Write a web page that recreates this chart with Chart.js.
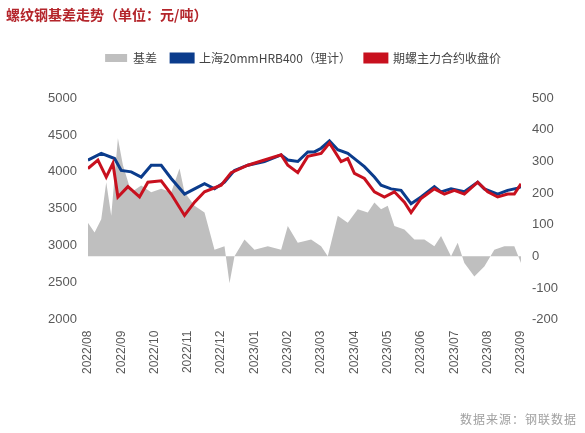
<!DOCTYPE html>
<html><head><meta charset="utf-8">
<script src="https://cdn.jsdelivr.net/npm/chart.js@4"></script>
<style>
body{margin:0;background:#fff;font-family:"Noto Sans CJK SC","Noto Sans",sans-serif;}
#wrap{position:relative;width:585px;height:433px;}
#title{position:absolute;left:6px;top:4px;font-size:14px;font-weight:bold;color:#b4252b;}
#src{position:absolute;right:8px;bottom:6px;font-size:12px;color:#a0a0a0;letter-spacing:1px;}
</style></head><body>
<div id="wrap"><canvas id="c" width="585" height="433"></canvas>
<div id="title">螺纹钢基差走势（单位：元/吨）</div>
<div id="src">数据来源：钢联数据</div></div>
<script>
const monthLabels=["2022/08","2022/09","2022/10","2022/11","2022/12","2023/01","2023/02","2023/03","2023/04","2023/05","2023/06","2023/07","2023/08","2023/09"];
const spotX=[0,0.4,0.8,1,1.3,1.6,1.9,2.2,2.5,2.9,3.2,3.5,3.8,4.1,4.4,4.8,5.3,5.8,6,6.3,6.6,6.8,7,7.25,7.5,7.8,8,8.3,8.6,8.8,9.1,9.4,9.7,10,10.4,10.6,10.9,11.3,11.7,11.9,12.3,12.6,12.9,13];
const spotY=[4160,4250,4180,4020,4000,3930,4090,4090,3910,3700,3770,3840,3770,3860,4020,4090,4140,4230,4160,4140,4270,4270,4320,4420,4300,4250,4180,4070,3930,3820,3770,3750,3570,3660,3800,3730,3770,3730,3860,3770,3700,3750,3780,3800];
const futX=[0,0.3,0.55,0.75,0.9,1.2,1.55,1.8,2.2,2.5,2.9,3.2,3.5,4,4.3,4.8,5.3,5.8,6,6.3,6.6,7,7.25,7.6,7.8,8,8.3,8.6,8.9,9.2,9.5,9.7,10,10.4,10.7,11,11.3,11.7,12,12.3,12.6,12.8,13];
const futY=[4045,4160,3930,4115,3660,3800,3660,3860,3880,3700,3410,3590,3730,3820,3990,4090,4160,4230,4090,3990,4210,4250,4390,4140,4180,3980,3910,3730,3660,3730,3590,3450,3640,3770,3700,3750,3700,3860,3730,3660,3700,3700,3840];
const basisX=[0,0.2,0.4,0.55,0.7,0.9,1.05,1.3,1.6,1.9,2.2,2.5,2.75,2.9,3.2,3.5,3.8,4.1,4.25,4.4,4.7,5,5.4,5.8,6,6.3,6.7,7,7.2,7.5,7.8,8.1,8.4,8.6,8.8,9,9.2,9.5,9.8,10.1,10.4,10.6,10.9,11.1,11.3,11.6,11.9,12.2,12.5,12.8,13];
const basisY=[106,75,117,234,128,373,288,202,224,202,213,202,277,202,160,138,21,32,-85,0,53,21,32,21,96,43,53,32,0,128,106,149,138,170,149,160,96,85,53,53,32,64,0,43,-21,-64,-32,21,32,32,-21];
const pts=(xs,ys)=>xs.map((x,i)=>({x,y:ys[i]}));
const tickFont={size:13,family:'"Liberation Sans"'};
const legendGap={id:'legendGap',beforeInit(chart){const f=chart.legend.fit;chart.legend.fit=function(){f.bind(chart.legend)();this.height+=24;};}};
new Chart(document.getElementById('c'),{
 type:'line',
 plugins:[legendGap],
 data:{datasets:[
  {label:'基差',data:pts(basisX,basisY),yAxisID:'y1',borderWidth:0,backgroundColor:'#bfbfbf',fill:'origin',pointRadius:0,order:3},
  {label:'上海20mmHRB400（理计）',data:pts(spotX,spotY),yAxisID:'y',borderColor:'#0b3c8c',backgroundColor:'#0b3c8c',borderWidth:3,pointRadius:0,order:2},
  {label:'期螺主力合约收盘价',data:pts(futX,futY),yAxisID:'y',borderColor:'#c8101e',backgroundColor:'#c8101e',borderWidth:3,pointRadius:0,order:1}
 ]},
 options:{responsive:false,animation:false,
  layout:{padding:{top:38,left:45,right:24,bottom:56}},
  plugins:{legend:{position:'top',labels:{boxWidth:22,boxHeight:8,font:{size:12,family:'"Noto Sans CJK SC"'},color:'#444',padding:14,sort:(a,b)=>a.datasetIndex-b.datasetIndex}},tooltip:{enabled:false}},
  scales:{
   x:{type:'linear',min:0,max:13,grid:{display:false},border:{display:false},
      ticks:{stepSize:1,autoSkip:false,minRotation:90,maxRotation:90,color:'#595959',font:{size:12,family:'"Liberation Sans"'},callback:v=>monthLabels[v]}},
   y:{position:'left',min:2000,max:5000,grid:{display:false},border:{display:false},ticks:{stepSize:500,color:'#595959',font:tickFont,callback:v=>String(v)}},
   y1:{position:'right',min:-200,max:500,grid:{display:false},border:{display:false},ticks:{stepSize:100,color:'#595959',font:tickFont,callback:v=>String(v)}}
  }}
});
</script></body></html>
